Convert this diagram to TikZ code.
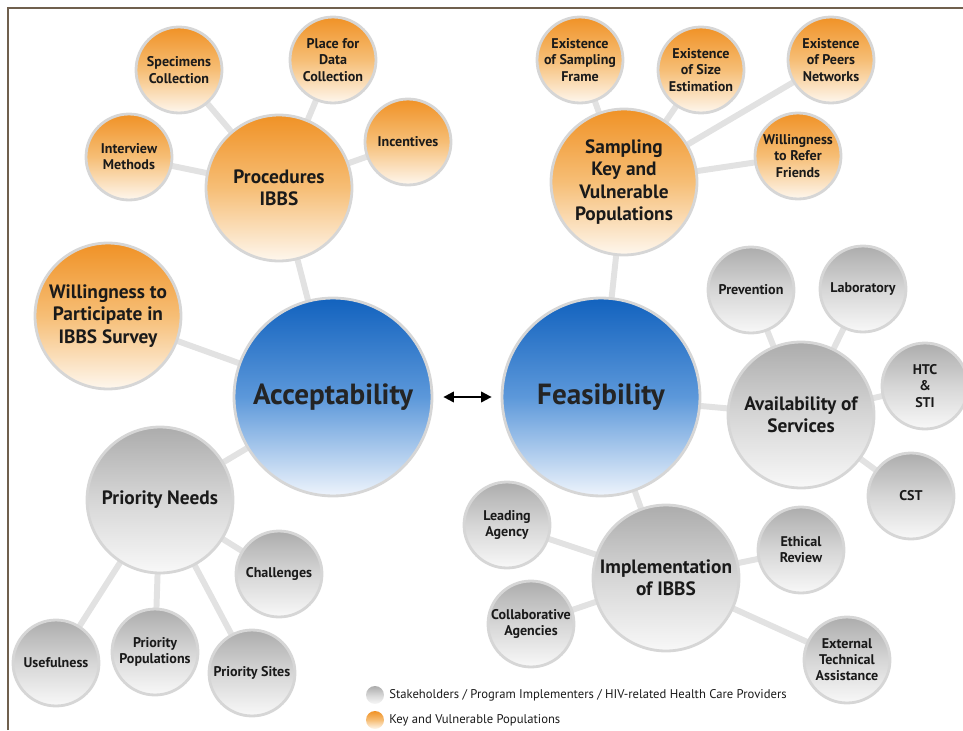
\documentclass[tikz,border=0pt]{standalone}
\usepackage{fontspec}
\setmainfont{PT Sans}
\usetikzlibrary{backgrounds,arrows.meta}

\definecolor{orangetop}{RGB}{240,146,38}
\definecolor{orangemid}{RGB}{246,190,118}
\definecolor{orangebot}{RGB}{254,247,238}
\definecolor{graytop}{RGB}{172,172,172}
\definecolor{graymid}{RGB}{214,214,214}
\definecolor{graybot}{RGB}{248,248,248}
\definecolor{bluetop}{RGB}{18,98,190}
\definecolor{bluemid}{RGB}{92,152,218}
\definecolor{bluebot}{RGB}{238,244,252}
\definecolor{rimgray}{RGB}{214,214,214}
\definecolor{linkgray}{RGB}{226,226,226}
\definecolor{framebrown}{RGB}{112,96,78}
\definecolor{inkblack}{RGB}{26,26,26}

\begin{document}
\begin{tikzpicture}[x=0.02cm, y=-0.02cm,
    bubble/.style={circle, draw=rimgray, line width=1.6pt, inner sep=0pt, align=center, text=inkblack},
    small/.style={bubble, minimum size=1.72cm, font=\bfseries\fontsize{8}{9.2}\selectfont},
    mid/.style={bubble, minimum size=2.92cm, font=\bfseries\fontsize{11}{12.6}\selectfont},
    big/.style={bubble, minimum size=3.96cm, font=\bfseries\fontsize{16.6}{18}\selectfont, text={rgb,255:red,36;green,36;blue,36}},
    key/.style={top color=orangetop, bottom color=orangebot, middle color=orangemid},
    staff/.style={top color=graytop, bottom color=graybot, middle color=graymid},
    core/.style={top color=bluetop, bottom color=bluebot, middle color=bluemid},
    link/.style={draw=linkgray, line width=3.4pt},
    legtext/.style={anchor=west, inner sep=0pt, font=\fontsize{7.2}{8}\selectfont, text=inkblack}]
    \useasboundingbox (0,0) rectangle (963,730);

    % frame
    \draw[framebrown, line width=1.2pt] (8,730) -- (8,8) -- (963,8);

    % main bubbles
    \node[big, core] (acc) at (333,397) {Acceptability};
    \node[big, core] (fea) at (601,397) {Feasibility};
    \draw[{Triangle[length=6pt,width=6pt]}-{Triangle[length=6pt,width=6pt]}, line width=1.1pt, shorten <=0.2cm, shorten >=0.18cm] (acc) -- (fea);

    % acceptability side
    \node[mid, key] (proc) at (279,188) {Procedures\\IBBS};
    \node[small, key] (spec) at (179,70) {Specimens\\Collection};
    \node[small, key] (place) at (333,60) {Place for\\Data\\Collection};
    \node[small, key] (interv) at (129,157) {Interview\\Methods};
    \node[small, key] (incent) at (408,142) {Incentives};
    \node[mid, key] (will) at (108,316) {Willingness to\\Participate in\\IBBS Survey};
    \node[mid, staff] (need) at (160,500) {Priority Needs};
    \node[small, staff] (chall) at (279,574) {Challenges};
    \node[small, staff] (useful) at (56,663) {Usefulness};
    \node[small, staff] (ppop) at (155,652) {Priority\\Populations};
    \node[small, staff] (psite) at (252,673) {Priority Sites};

    % feasibility side
    \node[mid, key] (samp) at (624,182) {Sampling\\Key and\\Vulnerable\\Populations};
    \node[small, key] (sframe) at (580,60) {Existence\\of Sampling\\Frame};
    \node[small, key] (ssize) at (701,70) {Existence\\of Size\\Estimation};
    \node[small, key] (peers) at (831,60) {Existence\\of Peers\\Networks};
    \node[small, key] (refer) at (798,156) {Willingness\\to Refer\\Friends};
    \node[mid, staff] (avail) at (801,415) {Availability of\\Services};
    \node[small, staff] (prev) at (751,290) {Prevention};
    \node[small, staff] (lab) at (863,289) {Laboratory};
    \node[small, staff] (htc) at (925,386) {HTC\\\&\\STI};
    \node[small, staff] (cst) at (911,496) {CST};
    \node[mid, staff] (impl) at (666,578) {Implementation\\of IBBS};
    \node[small, staff] (lead) at (507,525) {Leading\\Agency};
    \node[small, staff] (collab) at (531,624) {Collaborative\\Agencies};
    \node[small, staff] (ethic) at (801,550) {Ethical\\Review};
    \node[small, staff] (ext) at (847,660) {External\\Technical\\Assistance};

    % connectors behind the bubbles
    \begin{scope}[on background layer]
        \foreach \a/\b in {acc/proc, acc/will, acc/need, proc/spec, proc/place, proc/interv, proc/incent,
                need/chall, need/useful, need/ppop, need/psite,
                fea/samp, fea/avail, fea/impl, samp/sframe, samp/ssize, samp/peers, samp/refer,
                avail/prev, avail/lab, avail/htc, avail/cst, impl/lead, impl/collab, impl/ethic, impl/ext}
            \draw[link] (\a.center) -- (\b.center);
    \end{scope}

    % legend
    \node[circle, staff, minimum size=0.36cm, inner sep=0pt] (legstaff) at (375,695) {};
    \node[legtext] (legstafftxt) at (389,695) {Stakeholders / Program Implementers / HIV-related Health Care Providers};
    \node[circle, key, minimum size=0.36cm, inner sep=0pt] (legkey) at (375,720) {};
    \node[legtext] (legkeytxt) at (389,720) {Key and Vulnerable Populations};
\end{tikzpicture}
\end{document}
